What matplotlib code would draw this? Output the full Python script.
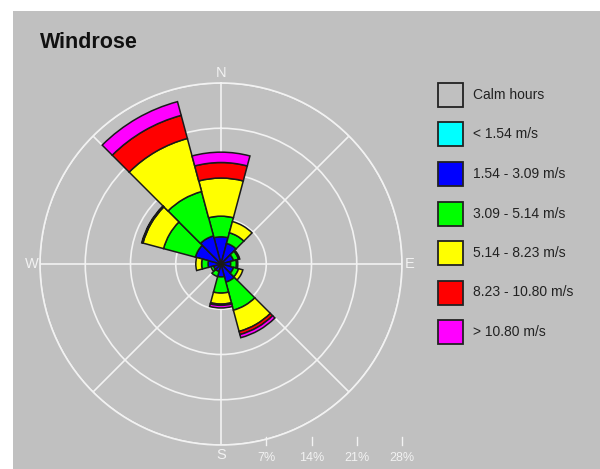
import numpy as np
import matplotlib.pyplot as plt
from matplotlib.patches import Rectangle
from matplotlib.lines import Line2D

# 12 direction sectors (degrees from north, clockwise)
directions = [0, 30, 60, 90, 120, 150, 180, 210, 240, 270, 300, 330]

# frequency [%] per speed class and direction
freq_cyan = [0, 0, 0, 0, 0, 0, 0, 0, 0, 0, 0, 0]
freq_blue = [4.2, 3.3, 2.0, 1.5, 2.0, 2.9, 2.0, 1.2, 1.2, 2.0, 4.1, 4.5]
freq_green = [3.2, 1.7, 0.8, 0.9, 0.8, 4.5, 2.5, 0.8, 0.4, 1.0, 5.1, 7.1]
freq_yellow = [5.9, 1.8, 0.2, 0.2, 0.7, 3.4, 1.7, 0, 0, 0.9, 3.3, 8.5]
freq_red = [2.4, 0, 0, 0, 0, 0.5, 0.2, 0, 0, 0, 0.1, 3.7]
freq_magenta = [1.6, 0, 0, 0, 0, 0.5, 0.4, 0, 0, 0, 0.1, 2.2]

classes = ['< 1.54 m/s', '1.54 - 3.09 m/s', '3.09 - 5.14 m/s',
           '5.14 - 8.23 m/s', '8.23 - 10.80 m/s', '> 10.80 m/s']
colors = ['#00ffff', '#0000ff', '#00ff00', '#ffff00', '#ff0000', '#ff00ff']
series = [freq_cyan, freq_blue, freq_green, freq_yellow, freq_red, freq_magenta]

rings = [7, 14, 21, 28]
ring_labels = ['7%', '14%', '21%', '28%']
cardinals = [('N', 0), ('E', 90), ('S', 180), ('W', 270)]

W, H = 600, 469
BG = '#c0c0c0'
plt.rcParams['font.family'] = ['Liberation Sans', 'DejaVu Sans']

fig = plt.figure(figsize=(W / 100, H / 100), dpi=100, facecolor='white')


def fx(px):
    return px / W


def fy(py):
    return 1 - py / H


# grey panel with thin white border top/left
fig.add_artist(Rectangle((fx(13), 0), 1 - fx(13), fy(11), transform=fig.transFigure,
                         facecolor=BG, edgecolor='none', zorder=0))

cx, cy, rad = 221, 264, 181
ax = fig.add_axes([fx(cx - rad), fy(cy + rad), 2 * rad / W, 2 * rad / H],
                  projection='polar')
ax.set_facecolor('none')
ax.set_theta_zero_location('N')
ax.set_theta_direction(-1)
ax.set_ylim(0, rings[-1])
ax.set_rgrids(rings, labels=[''] * len(rings))
ax.set_thetagrids(range(0, 360, 45), labels=[''] * 8)
ax.grid(color='#f2f2f2', lw=1.2)
ax.spines['polar'].set_color('#f2f2f2')
ax.spines['polar'].set_linewidth(1.2)
ax.set_axisbelow(True)

theta = np.radians(directions)
width = np.radians(30)
bottom = np.zeros(len(directions))
for vals, col in zip(series, colors):
    vals = np.array(vals, dtype=float)
    mask = vals > 0
    if mask.any():
        ax.bar(theta[mask], vals[mask], width=width, bottom=bottom[mask],
               color=col, edgecolor='#1a1a1a', linewidth=1.1, zorder=3)
    bottom += vals

for lab, ang in cardinals:
    r = 29.6 if lab in ('N', 'S') else 29.2
    ax.text(np.radians(ang), r, lab, ha='center', va='center', fontsize=10.5,
            color='#f2f2f2', clip_on=False)

# percentage scale under the rose
fig.canvas.draw()
for r, lab in zip(rings, ring_labels):
    px, _ = ax.transData.transform((np.radians(90), r))
    x = px / W
    fig.add_artist(Line2D([x, x], [fy(445), fy(437)], transform=fig.transFigure,
                          color='#f2f2f2', lw=1))
    fig.text(x, fy(458), lab, ha='center', va='center', fontsize=9,
             color='#f2f2f2')

fig.text(fx(40), fy(43), 'Windrose', ha='left', va='center', fontsize=15.5,
         fontweight='bold', color='#111111')

# legend
leg_labels = ['Calm hours'] + classes
leg_colors = [BG] + colors
for i, (lab, col) in enumerate(zip(leg_labels, leg_colors)):
    yc = 95 + i * 39.5
    fig.add_artist(Rectangle((fx(438), fy(yc + 12)), 25 / W, 24 / H,
                             transform=fig.transFigure, facecolor=col,
                             edgecolor='#222222', lw=1.3, zorder=2))
    fig.text(fx(473), fy(yc), lab, ha='left', va='center', fontsize=10,
             color='#222222')

fig.savefig('out.png', dpi=100, facecolor='white')
